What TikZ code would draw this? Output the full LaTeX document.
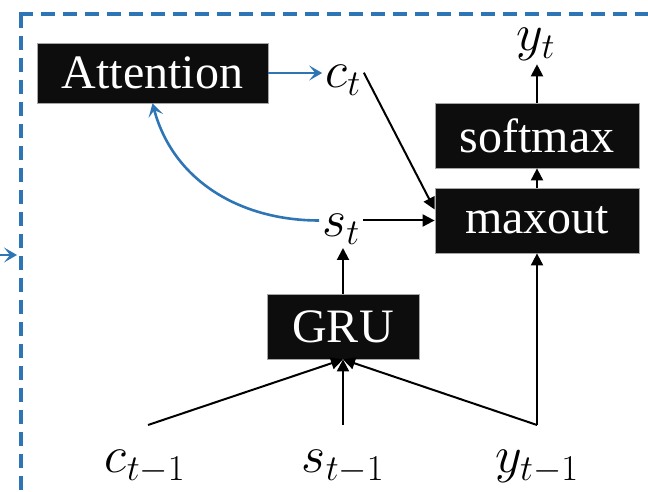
\RequirePackage{fix-cm}
\documentclass[tikz,border=0pt]{standalone}
\usepackage{fontspec}
\setmainfont{Liberation Serif}
\usetikzlibrary{arrows.meta,calc}
\definecolor{dblue}{HTML}{2E75B6}
\definecolor{boxblack}{HTML}{0D0D0D}
\begin{document}
\begin{tikzpicture}[x=1pt,y=1pt,
  blk/.style={fill=boxblack, draw=gray!70, line width=0.8pt, text=white,
    minimum height=65pt, inner sep=0pt, font=\fontsize{48}{56}\selectfont},
  lbl/.style={inner sep=3pt, anchor=base, font=\fontsize{52}{60}\selectfont},
  arr/.style={line width=2pt, -{Triangle[length=12pt,width=12pt]}},
  barr/.style={draw=dblue, line width=2.6pt, -{Stealth[length=13pt,width=15pt,inset=6pt]}},
]
\useasboundingbox (0,0) rectangle (648,492);
\begin{scope}
\clip (0,0) rectangle (648,492);
\draw[dblue, line width=4pt, dash pattern=on 14pt off 8pt] (20.5,478) -- (20.5,-10);
\draw[dblue, line width=4pt, dash pattern=on 14pt off 8pt] (18.5,478) -- (660,478);
\coordinate (lin) at (-6,237);
\coordinate (lout) at (17,237);
\draw[barr] (lin) -- (lout);
\end{scope}

% boxes
\node[blk, minimum width=231pt, minimum height=60pt] (att) at (152.5,419) {Attention};
\node[blk, minimum width=204pt] (sm) at (537,356.5) {softmax};
\node[blk, minimum width=204pt] (mo) at (537,271.5) {maxout};
\node[blk, minimum width=152pt] (gru) at (343,165.5) {GRU};

% labels
\node[lbl] (ct) at (343,404) {$c_t$};
\node[lbl] (st) at (341,255) {$s_t$};
\node[lbl] (yt) at (536,441) {$y_t$};
\node[lbl] (cp) at (145,19) {$c_{t-1}$};
\node[lbl] (sp) at (343,19) {$s_{t-1}$};
\node[lbl] (yp) at (537,19) {$y_{t-1}$};

\coordinate (cin) at (148,67);
\coordinate (sin) at (343,67);
\coordinate (yin) at (537,67);

% connectors
\draw[barr] (att.east) -- (att.east -| ct.west);
\draw[barr] (st.west |- mo.west) to[out=180, in=-75] (att.south);
\draw[arr] (gru.north) -- (gru.north |- st.south);
\draw[arr] (st.east |- mo.west) -- (mo.west);
\draw[arr] ([yshift=8pt]ct.east) -- ([yshift=11pt]mo.west);
\draw[arr] (mo.north) -- (sm.south);
\draw[arr] (sm.north) -- (sm.north |- yt.south);
\draw[arr] (cin) -- (gru.south);
\draw[arr] (sin) -- (gru.south);
\draw[arr] (yin) -- (gru.south);
\draw[arr] (yin) -- (mo.south);
\end{tikzpicture}
\end{document}
